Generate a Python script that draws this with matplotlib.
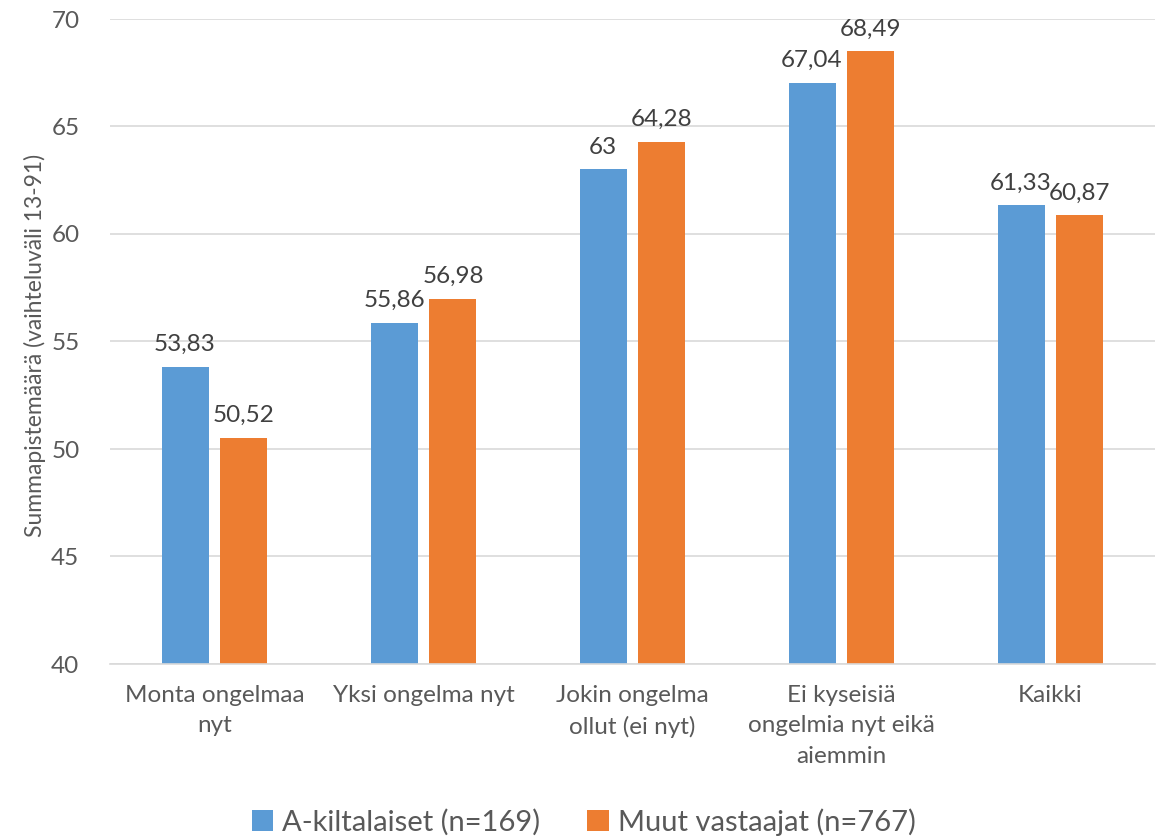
import matplotlib
matplotlib.use("Agg")
import matplotlib.pyplot as plt
import numpy as np
from matplotlib.patches import Patch

categories = ["Monta ongelmaa\nnyt", "Yksi ongelma nyt", "Jokin ongelma\nollut (ei nyt)",
              "Ei kyseisiä\nongelmia nyt eikä\naiemmin", "Kaikki"]
series_names = ["A-kiltalaiset (n=169)", "Muut vastaajat (n=767)"]
a_kilta = [53.83, 55.86, 63.0, 67.04, 61.33]
muut = [50.52, 56.98, 64.28, 68.49, 60.87]
y_ticks = [40, 45, 50, 55, 60, 65, 70]

colors = ["#5B9BD5", "#ED7D31"]
text_color = "#595959"
plt.rcParams["font.family"] = ["Lato", "DejaVu Sans"]

fig = plt.figure(figsize=(11.67, 8.38), dpi=100)
ax = fig.add_axes([110 / 1167, 1 - 664 / 838, 1045 / 1167, (664 - 19) / 838])

x = np.arange(len(categories))
width = 0.225
offset = 0.141

for vals, off, col in [(a_kilta, -offset, colors[0]), (muut, offset, colors[1])]:
    bars = ax.bar(x + off, np.array(vals) - 40, width, bottom=40, color=col, zorder=3)
    for b, v in zip(bars, vals):
        label = f"{v:g}".replace(".", ",")
        ax.text(b.get_x() + b.get_width() / 2, v + 0.55, label, ha="center", va="bottom",
                fontsize=17.5, color="#404040")

ax.set_ylim(40, 70)
ax.set_xlim(-0.5, len(categories) - 0.5)
ax.set_yticks(y_ticks)
ax.set_yticklabels([str(t) for t in y_ticks], fontsize=17.5, color=text_color)
ax.set_xticks(x)
ax.set_xticklabels(categories, fontsize=17.5, color=text_color, linespacing=1.55)
ax.tick_params(axis="both", length=0)
ax.tick_params(axis="y", pad=22)
ax.tick_params(axis="x", pad=15)
ax.grid(axis="y", color="#D9D9D9", linewidth=1.2, zorder=0)
for s in ["top", "right", "left"]:
    ax.spines[s].set_visible(False)
ax.spines["bottom"].set_color("#D9D9D9")
ax.spines["bottom"].set_linewidth(1.2)
ax.spines["bottom"].set_zorder(4)

fig.text(35 / 1167, 1 - 345 / 838, "Summapistemäärä (vaihteluväli 13-91)", rotation=90,
         ha="center", va="center", fontsize=16.5, color=text_color)

handles = [Patch(facecolor=c, label=n) for c, n in zip(colors, series_names)]
fig.legend(handles=handles, loc="center", bbox_to_anchor=(0.5, 1 - 822 / 838), ncol=2,
           frameon=False, fontsize=21, handlelength=0.75, handleheight=0.75,
           handletextpad=0.3, columnspacing=1.6, labelcolor=text_color)

fig.savefig("out.png", dpi=100)
